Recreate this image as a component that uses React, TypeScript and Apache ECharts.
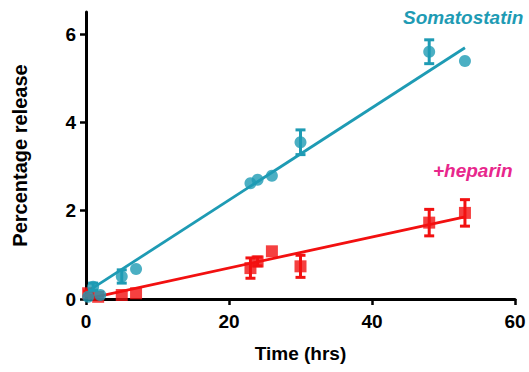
import React, { useEffect, useRef } from "react";
import * as echarts from "echarts";

const xTicks = [0, 20, 40, 60];
const yTicks = [0, 2, 4, 6];

const somaX = [0.3, 1, 2, 5, 7, 23, 24, 26, 30, 48, 53];
const somaY = [0.05, 0.28, 0.09, 0.51, 0.68, 2.62, 2.7, 2.79, 3.55, 5.6, 5.39];
const somaErr = [0, 0.08, 0, 0.15, 0, 0, 0, 0, 0.28, 0.27, 0];

const hepX = [0.3, 1.7, 5, 7, 23, 24, 26, 30, 48, 53];
const hepY = [0.13, 0.05, 0.09, 0.13, 0.7, 0.85, 1.08, 0.74, 1.73, 1.95];
const hepErr = [0.05, 0, 0, 0, 0.23, 0.1, 0, 0.25, 0.3, 0.3];

const somaFitX = [0.5, 53];
const somaFitY = [0.2, 5.69];
const hepFitX = [0.3, 53];
const hepFitY = [0.01, 1.86];

const TEAL = "#1e9bb4";
const RED = "#f21010";
const PINK = "#e8278c";
const FONT = "Liberation Sans, Arial, sans-serif";

function errSeries(xs: number[], ys: number[], es: number[], color: string, z: number) {
  const data = xs.map((x, i) => [x, ys[i], es[i]]).filter((d) => d[2] > 0);
  return {
    type: "custom",
    z,
    silent: true,
    data,
    renderItem: (params: any, api: any) => {
      const x = api.value(0);
      const y = api.value(1);
      const e = api.value(2);
      const top = api.coord([x, y + e]);
      const bot = api.coord([x, y - e]);
      const hw = 5;
      const style = { stroke: color, lineWidth: 3 };
      return {
        type: "group",
        children: [
          { type: "line", shape: { x1: top[0], y1: top[1], x2: bot[0], y2: bot[1] }, style },
          { type: "line", shape: { x1: top[0] - hw, y1: top[1], x2: top[0] + hw, y2: top[1] }, style },
          { type: "line", shape: { x1: bot[0] - hw, y1: bot[1], x2: bot[0] + hw, y2: bot[1] }, style },
        ],
      };
    },
  };
}

export default function App() {
  const ref = useRef<HTMLDivElement>(null);
  useEffect(() => {
    if (!ref.current) return;
    const chart = echarts.init(ref.current, null, { renderer: "svg" });
    const axisCommon = {
      axisLine: { show: true, lineStyle: { color: "#000", width: 3 } },
      axisTick: { show: true, length: 6, lineStyle: { color: "#000", width: 2.5 } },
      splitLine: { show: false },
    };
    chart.setOption({
      animation: false,
      backgroundColor: "#fff",
      grid: { left: 86, right: 14, top: 12, bottom: 73, containLabel: false },
      xAxis: {
        type: "value",
        min: 0,
        max: 60,
        interval: 20,
        name: "Time (hrs)",
        nameLocation: "middle",
        nameGap: 45,
        nameTextStyle: { fontFamily: FONT, fontWeight: "bold", fontSize: 19, color: "#000" },
        ...axisCommon,
        axisLabel: {
          margin: 13,
          fontFamily: FONT,
          fontWeight: "bold",
          fontSize: 19,
          color: "#000",
          customValues: xTicks,
        },
        axisTick: { ...axisCommon.axisTick, customValues: xTicks },
      },
      yAxis: {
        type: "value",
        min: 0,
        max: 6.5,
        interval: 2,
        name: "Percentage release",
        nameLocation: "middle",
        nameGap: 56,
        nameTextStyle: { fontFamily: FONT, fontWeight: "bold", fontSize: 20, color: "#000" },
        ...axisCommon,
        axisLabel: {
          margin: 10,
          fontFamily: FONT,
          fontWeight: "bold",
          fontSize: 19,
          color: "#000",
          customValues: yTicks,
        },
        axisTick: { ...axisCommon.axisTick, customValues: yTicks },
      },
      graphic: [
        {
          type: "text",
          x: 403,
          y: 17,
          style: {
            text: "Somatostatin",
            fill: TEAL,
            fontFamily: FONT,
            fontWeight: "bold",
            fontStyle: "italic",
            fontSize: 19,
            verticalAlign: "middle",
          },
        },
        {
          type: "text",
          x: 433,
          y: 170,
          style: {
            text: "+heparin",
            fill: PINK,
            fontFamily: FONT,
            fontWeight: "bold",
            fontStyle: "italic",
            fontSize: 19,
            verticalAlign: "middle",
          },
        },
      ],
      series: [
        {
          type: "line",
          z: 2,
          data: hepFitX.map((x, i) => [x, hepFitY[i]]),
          symbol: "none",
          lineStyle: { color: RED, width: 2.8 },
          silent: true,
        },
        {
          type: "line",
          z: 2,
          data: somaFitX.map((x, i) => [x, somaFitY[i]]),
          symbol: "none",
          lineStyle: { color: TEAL, width: 2.8 },
          silent: true,
        },
        errSeries(hepX, hepY, hepErr, RED, 3),
        {
          type: "scatter",
          z: 4,
          data: hepX.map((x, i) => [x, hepY[i]]),
          symbol: "rect",
          symbolSize: 12,
          itemStyle: { color: RED },
        },
        errSeries(somaX, somaY, somaErr, TEAL, 5),
        {
          type: "scatter",
          z: 6,
          data: somaX.map((x, i) => [x, somaY[i]]),
          symbol: "circle",
          symbolSize: 12,
          itemStyle: { color: TEAL },
        },
      ],
    });
    return () => chart.dispose();
  }, []);
  return (
    <div
      ref={ref}
      style={{ position: "absolute", left: 0, top: 0, width: 529, height: 372 }}
    />
  );
}
